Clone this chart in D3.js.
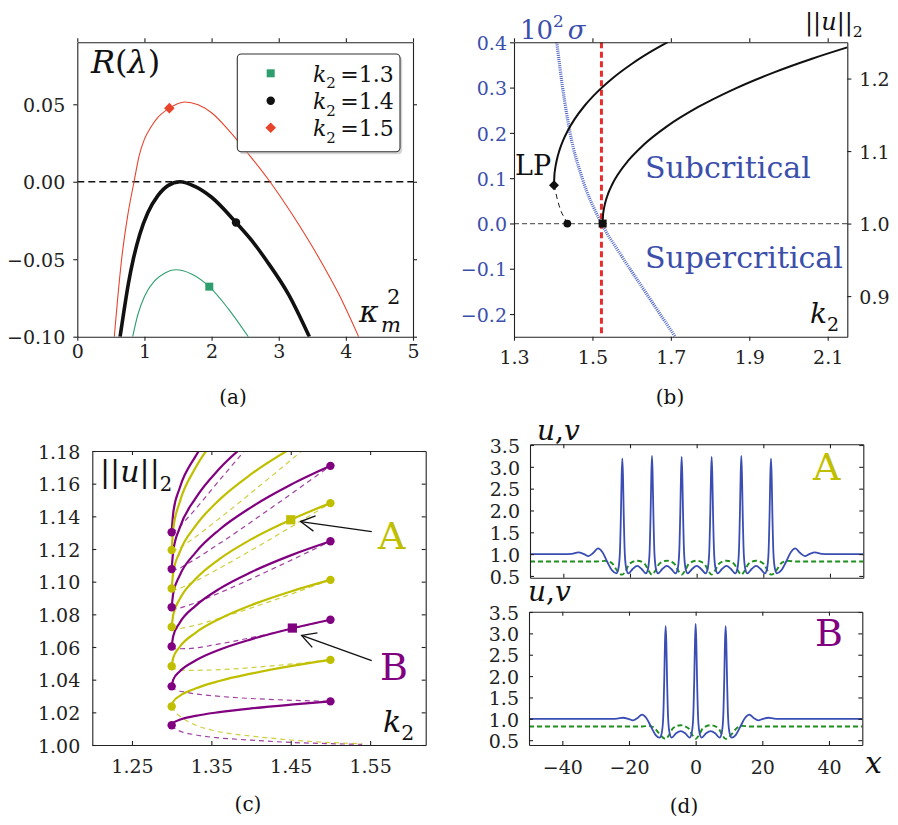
<!DOCTYPE html>
<html>
<head>
<meta charset="utf-8">
<script src="https://cdn.jsdelivr.net/npm/d3@7"></script>
<style>
  body { margin: 0; background: #fff; }
  svg { display: block; }
  svg text { font-family: "DejaVu Serif", serif; }
</style>
</head>
<body>
<svg id="fig" width="898" height="825"></svg>
<script>
// ================= data =================
// (a) growth rate R(lambda) vs kappa_m^2, one curve per k2
var kRed   = [0.551, 0.60, 0.66, 0.75, 0.845, 0.92, 1.0, 1.1, 1.2, 1.371, 1.6, 1.8, 2.0, 2.25, 2.52, 2.87, 3.2, 3.61, 3.9, 4.19];
var rRed   = [-0.100, -0.076, -0.050, -0.022, 0.000, 0.0165, 0.0275, 0.0355, 0.0415, 0.0475, 0.0515, 0.0497, 0.0445, 0.0335, 0.0195, 0.000, -0.021, -0.050, -0.073, -0.100];
var kBlack = [0.637, 0.70, 0.76, 0.834, 0.93, 1.05, 1.2, 1.35, 1.53, 1.75, 2.0, 2.364, 2.6, 2.82, 3.15, 3.456];
var rBlack = [-0.100, -0.082, -0.066, -0.050, -0.034, -0.020, -0.009, -0.0025, 0.000, -0.003, -0.010, -0.0263, -0.038, -0.051, -0.073, -0.100];
var kGreen = [0.825, 0.90, 1.0, 1.15, 1.3, 1.47, 1.7, 1.966, 2.25, 2.547];
var rGreen = [-0.100, -0.086, -0.074, -0.064, -0.059, -0.0568, -0.0595, -0.0677, -0.082, -0.100];
var legendK2 = ["1.3", "1.4", "1.5"];
var markKappa = [1.966, 2.364, 1.371];
var markR = [-0.0677, -0.0263, 0.0475];

// (b) bifurcation diagram, ||u||_2 (right axis) and 10^2 sigma (left axis) vs k2
var upperK = [1.402, 1.403, 1.405, 1.409, 1.416, 1.425, 1.437, 1.455, 1.48, 1.51, 1.55, 1.6, 1.65, 1.698];
var upperNorm = [1.053, 1.0662, 1.0757, 1.0874, 1.1013, 1.1144, 1.1281, 1.1444, 1.1625, 1.1802, 1.1998, 1.2201, 1.2374, 1.252];
var lpDashK = [1.402, 1.406, 1.409, 1.419, 1.432, 1.436];
var lpDashNorm = [1.053, 1.044, 1.0368, 1.0184, 1.0046, 1.0];
var rightK = [1.526, 1.527, 1.529, 1.533, 1.54, 1.55, 1.565, 1.59, 1.63, 1.69, 1.77, 1.86, 1.96, 2.06, 2.15];
var rightNorm = [1.0, 1.0112, 1.0193, 1.0293, 1.0412, 1.0536, 1.0678, 1.0860, 1.1083, 1.1340, 1.1608, 1.1852, 1.2079, 1.2274, 1.2430];
var sigmaK = [1.409, 1.424, 1.443, 1.474, 1.519, 1.570, 1.628, 1.711];
var sigmaVal = [0.40, 0.30, 0.20, 0.10, 0.007, -0.066, -0.142, -0.25];
var k2Crit = 1.523;
var lpPoint = [1.402, 1.053];
var lpCircle = [1.436, 1.0];
var critSquare = [1.526, 1.0];

// (c) snaking branches
var kSolid = [1.30, 1.302, 1.31, 1.33, 1.36, 1.40, 1.45, 1.50];
var purpleSolid = [
  [1.0121, 1.0136, 1.0154, 1.0178, 1.0201, 1.0224, 1.0247, 1.0267],
  [1.0359, 1.0400, 1.0450, 1.0517, 1.0583, 1.0647, 1.0712, 1.0767],
  [1.0603, 1.0667, 1.0747, 1.0852, 1.0956, 1.1058, 1.1161, 1.1247],
  [1.0843, 1.0930, 1.1037, 1.1178, 1.1318, 1.1455, 1.1593, 1.1709],
  [1.1077, 1.1189, 1.1328, 1.1510, 1.1691, 1.1869, 1.2047, 1.2197],
  [1.1303, 1.1423, 1.1572, 1.1767, 1.1961, 1.2151, 1.2342, 1.2503]
];
var yellowSolid = [
  [1.0236, 1.0265, 1.0300, 1.0346, 1.0392, 1.0437, 1.0483, 1.0521],
  [1.0482, 1.0535, 1.0600, 1.0687, 1.0772, 1.0856, 1.0940, 1.1011],
  [1.0722, 1.0798, 1.0892, 1.1016, 1.1138, 1.1259, 1.1379, 1.1481],
  [1.0958, 1.1057, 1.1180, 1.1341, 1.1501, 1.1658, 1.1815, 1.1948],
  [1.1194, 1.1324, 1.1485, 1.1697, 1.1906, 1.2113, 1.2320, 1.2494]
];
var kDashed = [1.30, 1.305, 1.32, 1.36, 1.42, 1.50];
var purpleDashed = [
  [1.0359, 1.0339, 1.0321, 1.0298, 1.0280, 1.0267],
  [1.0603, 1.0589, 1.0590, 1.0619, 1.0678, 1.0767],
  [1.0843, 1.0835, 1.0854, 1.0931, 1.1062, 1.1247],
  [1.1077, 1.1075, 1.1111, 1.1233, 1.1433, 1.1709],
  [1.1303, 1.1315, 1.1390, 1.1620, 1.1960, 1.2380]
];
var yellowDashed = [
  [1.0482, 1.0465, 1.0457, 1.0461, 1.0482, 1.0521],
  [1.0722, 1.0711, 1.0722, 1.0776, 1.0872, 1.1011],
  [1.0958, 1.0953, 1.0981, 1.1082, 1.1248, 1.1481],
  [1.1194, 1.1195, 1.1240, 1.1387, 1.1623, 1.1948]
];
var kTail = [1.30, 1.305, 1.312, 1.33, 1.356, 1.40, 1.44, 1.50, 1.54];
var purpleTail = [1.0121, 1.0098, 1.0082, 1.0062, 1.0045, 1.0030, 1.0018, 1.0008, 1.0004];
var yellowTail = [1.0236, 1.0200, 1.0170, 1.0122, 1.0085, 1.0055, 1.0035, 1.0015, 1.0008];
var purpleLeft = [1.0121, 1.0359, 1.0603, 1.0843, 1.1077, 1.1303];
var purpleRight = [1.0267, 1.0767, 1.1247, 1.1709];
var yellowLeft = [1.0236, 1.0482, 1.0722, 1.0958, 1.1194];
var yellowRight = [1.0521, 1.1011, 1.1481];
var pointA = [1.45, 1.1379];
var pointB = [1.452, 1.0716];
var arrowA = [[1.552, 1.1306], [1.4624, 1.1368]];
var arrowB = [[1.552, 1.0517], [1.4637, 1.0671]];

// (d) profiles u (solid) and v (dashed) for solutions A and B
var xA = [-50, -40, -37.5, -35.5, -33.8, -32.5, -31, -29.6, -28.3, -26.8, -25.3, -24.1,
  -23.5, -23.05, -22.7, -22.5, -22.3, -22.1, -21.9, -21.55, -21.1, -20.5,
  -19.2, -17.85, -16.5,
  -15.2, -14.6, -14.15, -13.8, -13.6, -13.4, -13.2, -13.0, -12.65, -12.2, -11.6,
  -10.3, -8.95, -7.6,
  -6.3, -5.7, -5.25, -4.9, -4.7, -4.5, -4.3, -4.1, -3.75, -3.3, -2.7,
  -1.35, 0, 1.35,
  2.7, 3.3, 3.75, 4.1, 4.3, 4.5, 4.7, 4.9, 5.25, 5.7, 6.3,
  7.6, 8.95, 10.3,
  11.6, 12.2, 12.65, 13.0, 13.2, 13.4, 13.6, 13.8, 14.15, 14.6, 15.2,
  16.5, 17.85, 19.2,
  20.5, 21.1, 21.55, 21.9, 22.1, 22.3, 22.5, 22.7, 23.05, 23.5, 24.1,
  25.3, 26.8, 28.3, 29.6, 31, 32.5, 33.8, 35.5, 37.5, 40, 50];
var uA = [1.0, 1.0, 1.005, 1.04, 1.0, 0.955, 1.03, 1.13, 1.05, 0.82, 0.62, 0.56,
  0.66, 1.0, 2.0, 2.8, 3.19, 2.8, 2.0, 1.0, 0.66, 0.56,
  0.66, 0.73, 0.66,
  0.56, 0.66, 1.0, 2.0, 2.8, 3.25, 2.8, 2.0, 1.0, 0.66, 0.56,
  0.66, 0.73, 0.66,
  0.56, 0.66, 1.0, 2.0, 2.8, 3.23, 2.8, 2.0, 1.0, 0.66, 0.56,
  0.66, 0.73, 0.66,
  0.56, 0.66, 1.0, 2.0, 2.8, 3.23, 2.8, 2.0, 1.0, 0.66, 0.56,
  0.66, 0.73, 0.66,
  0.56, 0.66, 1.0, 2.0, 2.8, 3.25, 2.8, 2.0, 1.0, 0.66, 0.56,
  0.66, 0.73, 0.66,
  0.56, 0.66, 1.0, 2.0, 2.8, 3.19, 2.8, 2.0, 1.0, 0.66, 0.56,
  0.62, 0.82, 1.05, 1.13, 1.03, 0.955, 1.0, 1.04, 1.005, 1.0, 1.0];
var xvA = [-50, -30, -27.5, -25.5, -24.2, -23.3, -22.3, -21.3, -20.1, -17.85, -15.6, -14.4, -13.4, -12.4, -11.2, -8.95, -6.7, -5.5,
  -4.5, -3.5, -2.3, 0, 2.3, 3.5, 4.5, 5.5, 6.7, 8.95, 11.2, 12.4, 13.4, 14.4, 15.6, 17.85, 20.1, 21.3, 22.3, 23.3, 24.2, 25.5, 27.5, 30, 50];
var vA = [0.83, 0.83, 0.845, 0.80, 0.66, 0.56, 0.53, 0.62, 0.78, 0.85, 0.78, 0.62, 0.53, 0.62, 0.78, 0.85, 0.78, 0.62,
  0.53, 0.62, 0.78, 0.85, 0.78, 0.62, 0.53, 0.62, 0.78, 0.85, 0.78, 0.62, 0.53, 0.62, 0.78, 0.85, 0.78, 0.62, 0.53, 0.56, 0.66, 0.80, 0.845, 0.83, 0.83];
var xB = [-50, -25, -23.5, -21.8, -20.2, -18.8, -17.4, -16.1, -14.8, -13.3, -12, -10.8,
  -10.2, -9.75, -9.4, -9.2, -9, -8.8, -8.6, -8.25, -7.8, -7.2,
  -5.85, -4.5, -3.15,
  -1.8, -1.2, -0.75, -0.4, -0.2, 0, 0.2, 0.4, 0.75, 1.2, 1.8,
  3.15, 4.5, 5.85,
  7.2, 7.8, 8.25, 8.6, 8.8, 9, 9.2, 9.4, 9.75, 10.2, 10.8,
  12, 13.3, 14.8, 16.1, 17.4, 18.8, 20.2, 21.8, 23.5, 25, 50];
var uB = [1.0, 1.0, 1.005, 1.025, 1.0, 0.965, 1.02, 1.1, 1.02, 0.8, 0.62, 0.56,
  0.66, 1.0, 2.0, 2.8, 3.17, 2.8, 2.0, 1.0, 0.66, 0.56,
  0.66, 0.71, 0.66,
  0.56, 0.66, 1.0, 2.0, 2.8, 3.22, 2.8, 2.0, 1.0, 0.66, 0.56,
  0.66, 0.71, 0.66,
  0.56, 0.66, 1.0, 2.0, 2.8, 3.17, 2.8, 2.0, 1.0, 0.66, 0.56,
  0.62, 0.8, 1.02, 1.1, 1.02, 0.965, 1.0, 1.025, 1.005, 1.0, 1.0];
var xvB = [-50, -16, -14, -12.3, -10.8, -9.8, -9, -8, -6.8, -4.5, -2.2, -1, 0, 1, 2.2, 4.5, 6.8, 8, 9, 9.8, 10.8, 12.3, 14, 16, 50];
var vB = [0.82, 0.82, 0.835, 0.78, 0.64, 0.56, 0.53, 0.62, 0.78, 0.85, 0.78, 0.62, 0.53, 0.62, 0.78, 0.85, 0.78, 0.62, 0.53, 0.56, 0.64, 0.78, 0.835, 0.82, 0.82];

// colours
var cRed = "#e8432b", cGreen = "#2e9e6e", cBlack = "#111";
var cBlueText = "#3b4fab", cBlueDot = "#5167c8", cRedDash = "#e62e2e";
var cPurple = "#800080", cYellow = "#bfbf00";
var cU = "#3a4db3", cV = "#1f8f1f";

// ================= helpers =================
var svg = d3.select("#fig");
var defs = svg.append("defs");

function clip(id, x0, y0, x1, y1) {
  defs.append("clipPath").attr("id", id).append("rect")
    .attr("x", x0).attr("y", y0).attr("width", x1 - x0).attr("height", y1 - y0);
  return "url(#" + id + ")";
}

function axis(g, gen, tx, ty, color) {
  var a = g.append("g").attr("transform", "translate(" + tx + "," + ty + ")").call(gen);
  a.attr("font-family", "DejaVu Serif").attr("font-size", 19);
  a.select(".domain").attr("stroke", "#222").attr("stroke-width", 1.1);
  a.selectAll(".tick line").attr("stroke", "#222").attr("stroke-width", 1.1);
  a.selectAll(".tick text").attr("fill", color || "#222");
  return a;
}

function bottomText(a, y) { a.selectAll(".tick text").attr("dy", 0).attr("y", y); }
function sideText(a) { a.selectAll(".tick text").attr("dy", "0.38em"); }

// text with italic / sub / superscript parts
function mtext(g, x, y, size, parts, color, anchor) {
  var t = g.append("text").attr("x", x).attr("y", y).attr("font-size", size).attr("fill", color || "#111");
  if (anchor) t.attr("text-anchor", anchor);
  var cur = 0;
  parts.forEach(function(p) {
    var shift = (p.sh || 0) * size;
    var ts = t.append("tspan").text(p.t).attr("dy", shift - cur);
    cur = shift;
    if (p.it) ts.attr("font-style", "italic");
    if (p.sc) ts.attr("font-size", size * p.sc);
    if (p.dx) ts.attr("dx", p.dx);
  });
  return t;
}

function pairs(xs, ys) { return xs.map(function(v, i) { return [v, ys[i]]; }); }

// ================= panel (a) =================
var ax = d3.scaleLinear().domain([0, 5]).range([77.3, 413]);
var ay = d3.scaleLinear().domain([-0.1, 0.09]).range([336.7, 42.3]);
var ga = svg.append("g");
var lineA = d3.line().x(function(d) { return ax(d[0]); }).y(function(d) { return ay(d[1]); }).curve(d3.curveMonotoneX);
var pa = ga.append("g").attr("clip-path", clip("clipA", 77.3, 42.3, 413, 336.7));

pa.append("line").attr("x1", ax(0)).attr("x2", ax(5)).attr("y1", ay(0)).attr("y2", ay(0))
  .attr("stroke", cBlack).attr("stroke-width", 1.6).attr("stroke-dasharray", "7,4");
pa.append("path").datum(pairs(kGreen, rGreen)).attr("d", lineA).attr("fill", "none").attr("stroke", cGreen).attr("stroke-width", 1.1);
pa.append("path").datum(pairs(kRed, rRed)).attr("d", lineA).attr("fill", "none").attr("stroke", cRed).attr("stroke-width", 1.1);
pa.append("path").datum(pairs(kBlack, rBlack)).attr("d", lineA).attr("fill", "none").attr("stroke", cBlack).attr("stroke-width", 3.6);

var symA = [d3.symbol().type(d3.symbolSquare).size(64), d3.symbol().type(d3.symbolCircle).size(56), d3.symbol().type(d3.symbolSquare).size(56)];
var colA = [cGreen, cBlack, cRed];
markKappa.forEach(function(k, i) {
  ga.append("path").attr("d", symA[i]())
    .attr("transform", "translate(" + ax(k) + "," + ay(markR[i]) + ")" + (i === 2 ? " rotate(45)" : ""))
    .attr("fill", colA[i]);
});

axis(ga, d3.axisTop(ax).tickValues([0, 1, 2, 3, 4, 5]).tickFormat("").tickSize(4).tickSizeOuter(0), 0, 42.3);
axis(ga, d3.axisRight(ay).tickValues([-0.1, -0.05, 0, 0.05]).tickFormat("").tickSize(4).tickSizeOuter(0), 413, 0);
bottomText(axis(ga, d3.axisBottom(ax).tickValues([0, 1, 2, 3, 4, 5]).tickFormat(d3.format("d")).tickSize(4).tickSizeOuter(0), 0, 336.7), 21.5);
sideText(axis(ga, d3.axisLeft(ay).tickValues([-0.1, -0.05, 0, 0.05]).tickFormat(d3.format(".2f")).tickSize(4).tickPadding(8).tickSizeOuter(0), 77.3, 0));

// legend
ga.append("rect").attr("x", 239.5).attr("y", 56.5).attr("width", 162.7).attr("height", 97.7).attr("rx", 4).attr("fill", "#bbb").attr("opacity", 0.6);
ga.append("rect").attr("x", 237.3).attr("y", 54).attr("width", 162.7).attr("height", 97.7).attr("rx", 4)
  .attr("fill", "#fff").attr("stroke", "#333").attr("stroke-width", 1.1);
legendK2.forEach(function(v, i) {
  var ly = [73.3, 100.7, 127.7][i];
  ga.append("path").attr("d", symA[i]())
    .attr("transform", "translate(270.7," + ly + ")" + (i === 2 ? " rotate(45)" : ""))
    .attr("fill", colA[i]);
  mtext(ga, 313, ly + 8.5, 22, [{t: "k", it: 1}, {t: "2", sh: 0.3, sc: 0.68}, {t: "\u2009=" + v, sh: 0}], "#111");
});

mtext(ga, 91, 73, 32, [{t: "R", it: 1}, {t: "("}, {t: "\u03bb", it: 1}, {t: ")"}], "#111");
mtext(ga, 359, 322, 30, [{t: "\u03ba", it: 1}], "#111");
mtext(ga, 381, 332, 21, [{t: "m", it: 1}], "#111");
mtext(ga, 387, 304, 21, [{t: "2"}], "#111");
mtext(ga, 233, 404, 20, [{t: "(a)"}], "#111", "middle");

// ================= panel (b) =================
var bx = d3.scaleLinear().domain([1.3, 2.15]).range([514, 847.3]);
var byl = d3.scaleLinear().domain([-0.25, 0.4]).range([336.7, 42.3]);
var byr = d3.scaleLinear().domain([0.844, 1.25]).range([336.7, 42.3]);
var gb = svg.append("g");
var pb = gb.append("g").attr("clip-path", clip("clipB", 514, 42.3, 847.3, 336.7));
var lineR = d3.line().x(function(d) { return bx(d[0]); }).y(function(d) { return byr(d[1]); }).curve(d3.curveMonotoneX);
var lineS = d3.line().x(function(d) { return bx(d[0]); }).y(function(d) { return byl(d[1]); }).curve(d3.curveMonotoneX);

pb.append("line").attr("x1", bx(1.3)).attr("x2", bx(2.15)).attr("y1", byr(1.0)).attr("y2", byr(1.0))
  .attr("stroke", "#666").attr("stroke-width", 1.2).attr("stroke-dasharray", "5,3");
pb.append("path").datum(pairs(sigmaK, sigmaVal)).attr("d", lineS).attr("fill", "none")
  .attr("stroke", cBlueDot).attr("stroke-width", 3.2).attr("stroke-dasharray", "1,1.1");
pb.append("line").attr("x1", bx(k2Crit)).attr("x2", bx(k2Crit)).attr("y1", 42.3).attr("y2", 336.7)
  .attr("stroke", cRedDash).attr("stroke-width", 3).attr("stroke-dasharray", "6,3.5");
pb.append("path").datum(pairs(lpDashK, lpDashNorm)).attr("d", lineR).attr("fill", "none")
  .attr("stroke", cBlack).attr("stroke-width", 1).attr("stroke-dasharray", "5,4");
pb.append("path").datum(pairs(upperK, upperNorm)).attr("d", lineR).attr("fill", "none").attr("stroke", cBlack).attr("stroke-width", 2);
pb.append("path").datum(pairs(rightK, rightNorm)).attr("d", lineR).attr("fill", "none").attr("stroke", cBlack).attr("stroke-width", 2);

gb.append("path").attr("d", d3.symbol().type(d3.symbolSquare).size(50)())
  .attr("transform", "translate(" + bx(lpPoint[0]) + "," + byr(lpPoint[1]) + ") rotate(45)").attr("fill", cBlack);
gb.append("path").attr("d", d3.symbol().type(d3.symbolCircle).size(48)())
  .attr("transform", "translate(" + bx(lpCircle[0]) + "," + byr(lpCircle[1]) + ")").attr("fill", cBlack);
gb.append("path").attr("d", d3.symbol().type(d3.symbolSquare).size(64)())
  .attr("transform", "translate(" + bx(critSquare[0]) + "," + byr(critSquare[1]) + ")").attr("fill", cBlack);

var bTicks = [1.3, 1.5, 1.7, 1.9, 2.1];
axis(gb, d3.axisTop(bx).tickValues(bTicks).tickFormat("").tickSize(4).tickSizeOuter(0), 0, 42.3);
bottomText(axis(gb, d3.axisBottom(bx).tickValues(bTicks).tickFormat(d3.format(".1f")).tickSize(4).tickSizeOuter(0), 0, 336.7), 27);
sideText(axis(gb, d3.axisLeft(byl).tickValues([-0.2, -0.1, 0, 0.1, 0.2, 0.3, 0.4]).tickFormat(d3.format(".1f")).tickSize(4).tickPadding(3).tickSizeOuter(0), 514, 0, cBlueText));
sideText(axis(gb, d3.axisRight(byr).tickValues([0.9, 1.0, 1.1, 1.2]).tickFormat(d3.format(".1f")).tickSize(4).tickPadding(8).tickSizeOuter(0), 847.3, 0));

mtext(gb, 520, 39, 26, [{t: "10"}, {t: "2", sh: -0.45, sc: 0.65}, {t: "\u03c3", it: 1, sh: 0, dx: 4}], cBlueText);
mtext(gb, 805, 30, 24, [{t: "||"}, {t: "u", it: 1}, {t: "||"}, {t: "2", sh: 0.3, sc: 0.65}], "#111");
mtext(gb, 810, 323, 28, [{t: "k", it: 1}, {t: "2", sh: 0.28, sc: 0.68}], "#111");
mtext(gb, 515, 175, 27, [{t: "LP"}], "#111");
mtext(gb, 645, 178, 30, [{t: "Subcritical"}], cBlueText);
mtext(gb, 645, 268, 30, [{t: "Supercritical"}], cBlueText);
mtext(gb, 670, 404, 20, [{t: "(b)"}], "#111", "middle");

// ================= panel (c) =================
var cx = d3.scaleLinear().domain([1.2, 1.62]).range([92.3, 425.7]);
var cy = d3.scaleLinear().domain([1.0, 1.18]).range([745, 451]);
var gc = svg.append("g");
var pc = gc.append("g").attr("clip-path", clip("clipC", 92.3, 451, 425.7, 745));
var lineC = d3.line().x(function(d) { return cx(d[0]); }).y(function(d) { return cy(d[1]); }).curve(d3.curveMonotoneX);

function dashedC(ks, vals, color) {
  pc.append("path").datum(pairs(ks, vals)).attr("d", lineC).attr("fill", "none")
    .attr("stroke", color).attr("stroke-width", 1.2).attr("stroke-opacity", 0.75).attr("stroke-dasharray", "5,4");
}
function solidC(ks, vals, color) {
  pc.append("path").datum(pairs(ks, vals)).attr("d", lineC).attr("fill", "none")
    .attr("stroke", color).attr("stroke-width", 2.2);
}
dashedC(kTail, purpleTail, cPurple);
dashedC(kTail, yellowTail, cYellow);
purpleDashed.forEach(function(v) { dashedC(kDashed, v, cPurple); });
yellowDashed.forEach(function(v) { dashedC(kDashed, v, cYellow); });
purpleSolid.forEach(function(v) { solidC(kSolid, v, cPurple); });
yellowSolid.forEach(function(v) { solidC(kSolid, v, cYellow); });

function dotsC(k, vals, color) {
  vals.forEach(function(v) {
    gc.append("circle").attr("cx", cx(k)).attr("cy", cy(v)).attr("r", 4.2).attr("fill", color);
  });
}
dotsC(1.30, purpleLeft, cPurple);
dotsC(1.30, yellowLeft, cYellow);
dotsC(1.50, purpleRight, cPurple);
dotsC(1.50, yellowRight, cYellow);
gc.append("rect").attr("x", cx(pointA[0]) - 4.6).attr("y", cy(pointA[1]) - 4.6).attr("width", 9.2).attr("height", 9.2).attr("fill", cYellow);
gc.append("rect").attr("x", cx(pointB[0]) - 4.6).attr("y", cy(pointB[1]) - 4.6).attr("width", 9.2).attr("height", 9.2).attr("fill", cPurple);

function arrowC(a) {
  var x0 = cx(a[0][0]), y0 = cy(a[0][1]), x1 = cx(a[1][0]), y1 = cy(a[1][1]);
  var ang = Math.atan2(y0 - y1, x0 - x1), L = 16, w = 0.5;
  gc.append("line").attr("x1", x0).attr("y1", y0).attr("x2", x1).attr("y2", y1).attr("stroke", "#111").attr("stroke-width", 1.3);
  gc.append("path").attr("d", "M" + (x1 + L * Math.cos(ang - w)) + "," + (y1 + L * Math.sin(ang - w)) +
    "L" + x1 + "," + y1 + "L" + (x1 + L * Math.cos(ang + w)) + "," + (y1 + L * Math.sin(ang + w)))
    .attr("fill", "none").attr("stroke", "#111").attr("stroke-width", 1.3);
}
arrowC(arrowA);
arrowC(arrowB);

var cTicksY = [1.00, 1.02, 1.04, 1.06, 1.08, 1.10, 1.12, 1.14, 1.16, 1.18];
var cTicksX = [1.25, 1.35, 1.45, 1.55];
axis(gc, d3.axisTop(cx).tickValues(cTicksX).tickFormat("").tickSize(-4).tickSizeOuter(0), 0, 451);
axis(gc, d3.axisRight(cy).tickValues(cTicksY).tickFormat("").tickSize(-4).tickSizeOuter(0), 425.7, 0);
bottomText(axis(gc, d3.axisBottom(cx).tickValues(cTicksX).tickFormat(d3.format(".2f")).tickSize(-4).tickSizeOuter(0), 0, 745), 27.7);
sideText(axis(gc, d3.axisLeft(cy).tickValues(cTicksY).tickFormat(d3.format(".2f")).tickSize(-4).tickPadding(12).tickSizeOuter(0), 92.3, 0));

mtext(gc, 100, 482, 30, [{t: "||"}, {t: "u", it: 1}, {t: "||"}, {t: "2", sh: 0.3, sc: 0.65}], "#111");
mtext(gc, 383, 732, 30, [{t: "k", it: 1}, {t: "2", sh: 0.28, sc: 0.68}], "#111");
mtext(gc, 378, 549, 38, [{t: "A"}], cYellow);
mtext(gc, 380, 680, 38, [{t: "B"}], cPurple);
mtext(gc, 248, 811, 20, [{t: "(c)"}], "#111", "middle");

// ================= panel (d) =================
function profile(x0, x1, y0, y1, yDom, xu, u, xv, v, id, showX) {
  var x = d3.scaleLinear().domain([-50, 50]).range([x0, x1]);
  var y = d3.scaleLinear().domain(yDom).range([y1, y0]);
  var g = svg.append("g");
  var p = g.append("g").attr("clip-path", clip(id, x0, y0, x1, y1));
  var ln = d3.line().x(function(d) { return x(d[0]); }).y(function(d) { return y(d[1]); }).curve(d3.curveMonotoneX);
  p.append("path").datum(pairs(xv, v)).attr("d", ln).attr("fill", "none")
    .attr("stroke", cV).attr("stroke-width", 1.9).attr("stroke-dasharray", "5,3");
  p.append("path").datum(pairs(xu, u)).attr("d", ln).attr("fill", "none")
    .attr("stroke", cU).attr("stroke-width", 1.8);
  var xt = [-40, -20, 0, 20, 40], yt = [0.5, 1.0, 1.5, 2.0, 2.5, 3.0, 3.5];
  axis(g, d3.axisTop(x).tickValues(xt).tickFormat("").tickSize(-4).tickSizeOuter(0), 0, y0);
  axis(g, d3.axisRight(y).tickValues(yt).tickFormat("").tickSize(-4).tickSizeOuter(0), x1, 0);
  var b = axis(g, d3.axisBottom(x).tickValues(xt).tickFormat(showX ? d3.format("d") : "").tickSize(-4).tickSizeOuter(0), 0, y1);
  if (showX) bottomText(b, 29);
  sideText(axis(g, d3.axisLeft(y).tickValues(yt).tickFormat(d3.format(".1f")).tickSize(-4).tickPadding(10).tickSizeOuter(0), x0, 0));
  return g;
}
var gd1 = profile(530, 863.3, 444.3, 577.7, [0.46, 3.516], xA, uA, xvA, vA, "clipD1", false);
var gd2 = profile(529, 862.3, 611.7, 745, [0.387, 3.507], xB, uB, xvB, vB, "clipD2", true);

mtext(gd1, 537, 440, 28, [{t: "u", it: 1}, {t: ","}, {t: "v", it: 1}], "#111");
mtext(gd2, 528, 601, 28, [{t: "u", it: 1}, {t: ","}, {t: "v", it: 1}], "#111");
mtext(gd1, 813, 480, 38, [{t: "A"}], cYellow);
mtext(gd2, 815, 646, 38, [{t: "B"}], cPurple);
mtext(gd2, 865, 773, 30, [{t: "x", it: 1}], "#111");
mtext(gd2, 684, 813, 20, [{t: "(d)"}], "#111", "middle");
</script>
</body>
</html>
